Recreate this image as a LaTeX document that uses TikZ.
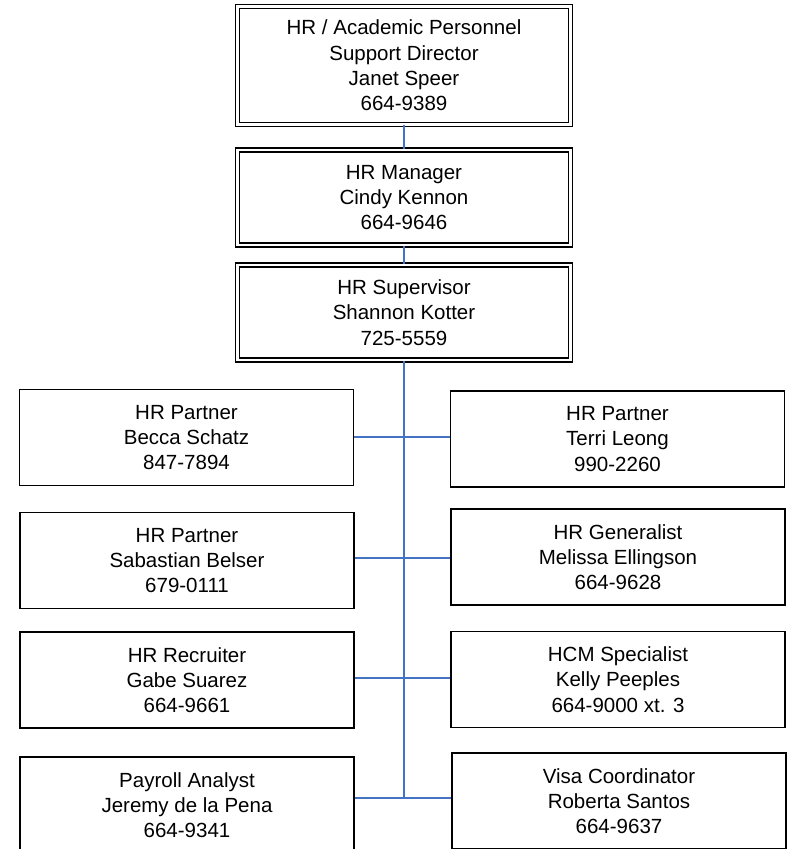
\documentclass[tikz,border=0pt]{standalone}
\usepackage{fontspec}
\setmainfont{Liberation Sans}
\begin{document}
\begin{tikzpicture}[x=1pt,y=-1pt,
  every node/.style={font=\fontsize{20.5}{25.3}\selectfont, align=center, inner sep=0pt},
  dbox/.style={draw=black, double=white, double distance=2.6pt, line width=1.6pt, rectangle, minimum width=333pt, minimum height=#1},
  sbox/.style={draw=black, line width=1.6pt, rectangle, minimum width=334pt, minimum height=96pt},
  link/.style={draw={rgb,255:red,68;green,114;blue,196}, line width=1.5pt}]
\useasboundingbox (0,0) rectangle (788,849);
\clip (0,0) rectangle (788,849);
\fill[white] (0,0) rectangle (788,849);
% top chain
\node[dbox=118pt] (dir) at (404,65.5) {HR / Academic Personnel\\Support Director\\Janet Speer\\664-9389};
\node[dbox=95pt] (mgr) at (404,197.5) {HR Manager\\Cindy Kennon\\664-9646};
\node[dbox=95pt] (sup) at (404,312.5) {HR Supervisor\\Shannon Kotter\\725-5559};
% rows
\node[sbox] (l1) at (186.5,437.5) {HR Partner\\Becca Schatz\\847-7894};
\node[sbox] (r1) at (617.5,439) {HR Partner\\Terri Leong\\990-2260};
\node[sbox] (l2) at (187,560.5) {HR Partner\\Sabastian Belser\\679-0111};
\node[sbox] (r2) at (618,557) {HR Generalist\\Melissa Ellingson\\664-9628};
\node[sbox] (l3) at (187,680) {HR Recruiter\\Gabe Suarez\\664-9661};
\node[sbox] (r3) at (618,679.5) {HCM Specialist\\Kelly Peeples\\664-9000 xt. 3};
\node[sbox] (l4) at (187,805) {Payroll Analyst\\Jeremy de la Pena\\664-9341};
\node[sbox] (r4) at (619,801) {Visa Coordinator\\Roberta Santos\\664-9637};
% connectors
\coordinate (j1) at (404,437);
\coordinate (j2) at (404,558);
\coordinate (j3) at (404,678);
\coordinate (j4) at (404,798);
\draw[link] (dir.south) -- (mgr.north);
\draw[link] (mgr.south) -- (sup.north);
\draw[link] (sup.south) -- (j4);
\draw[link] (l1.east |- j1) -- (r1.west |- j1);
\draw[link] (l2.east |- j2) -- (r2.west |- j2);
\draw[link] (l3.east |- j3) -- (r3.west |- j3);
\draw[link] (l4.east |- j4) -- (r4.west |- j4);
\end{tikzpicture}
\end{document}
